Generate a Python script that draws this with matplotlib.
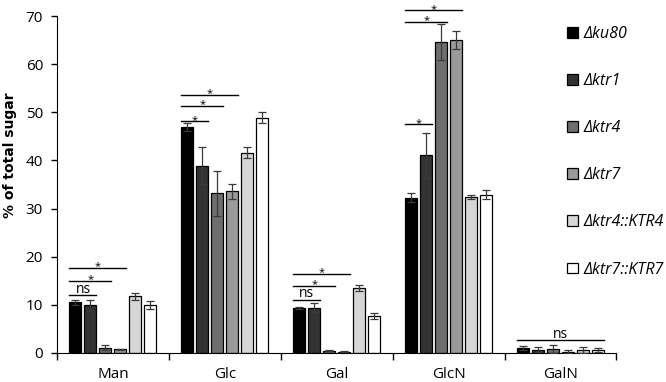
import numpy as np
import matplotlib
matplotlib.use('Agg')
import matplotlib.pyplot as plt

plt.rcParams['font.family'] = ['Open Sans', 'DejaVu Sans']

# data
sugars = ['Man', 'Glc', 'Gal', 'GlcN', 'GalN']
strains = ['Δku80', 'Δktr1', 'Δktr4', 'Δktr7', 'Δktr4::KTR4', 'Δktr7::KTR7']
colors = ['#000000', '#333333', '#6e6e6e', '#9a9a9a', '#d6d6d6', '#ffffff']

ku80 = [10.5, 46.9, 9.4, 32.3, 1.0]
ktr1 = [9.9, 38.9, 9.4, 41.1, 0.7]
ktr4 = [1.1, 33.2, 0.5, 64.6, 0.8]
ktr7 = [0.8, 33.6, 0.3, 65.0, 0.3]
ktr4_c = [11.8, 41.6, 13.5, 32.4, 0.6]
ktr7_c = [10.0, 48.9, 7.7, 32.9, 0.6]

ku80_err = [0.6, 0.8, 0.2, 1.0, 0.4]
ktr1_err = [1.1, 3.8, 0.9, 4.7, 0.5]
ktr4_err = [0.5, 4.7, 0.1, 3.8, 0.8]
ktr7_err = [0.1, 1.6, 0.1, 1.8, 0.4]
ktr4_c_err = [0.7, 1.1, 0.6, 0.4, 0.7]
ktr7_c_err = [0.8, 1.1, 0.6, 1.0, 0.5]

values = [ku80, ktr1, ktr4, ktr7, ktr4_c, ktr7_c]
errors = [ku80_err, ktr1_err, ktr4_err, ktr7_err, ktr4_c_err, ktr7_c_err]

# significance brackets: (sugar index, last bar index, height, label)
sig_marks = [
    (0, 1, 12.1, 'ns'), (0, 2, 15.0, '*'), (0, 3, 17.7, '*'),
    (1, 1, 48.1, '*'), (1, 2, 51.3, '*'), (1, 3, 53.6, '*'),
    (2, 1, 11.1, 'ns'), (2, 2, 14.0, '*'), (2, 3, 16.4, '*'),
    (3, 1, 47.5, '*'), (3, 2, 68.8, '*'), (3, 3, 71.2, '*'),
    (4, 5, 2.6, 'ns'),
]

fig = plt.figure(figsize=(6.66, 3.82), dpi=100)
ax = fig.add_axes([0.0856, 0.076, 0.84, 0.882])

step = 0.134
width = 0.107
x = np.arange(len(sugars))
for j, (vals, errs) in enumerate(zip(values, errors)):
    pos = x + (j - 2.5) * step
    ax.bar(pos, vals, width=width, color=colors[j], edgecolor='black',
           linewidth=0.9, label=strains[j], zorder=2)
    ax.errorbar(pos, vals, yerr=errs, fmt='none', ecolor='#3a3a3a',
                elinewidth=0.9, capsize=3, capthick=0.9, zorder=3)

for i, last, h, lab in sig_marks:
    x0 = i - 2.5 * step - width / 2
    x1 = i + (last - 2.5) * step + width / 2
    ax.plot([x0, x1], [h, h], color='black', lw=1, clip_on=False, zorder=4)
    if lab == 'ns':
        ax.text((x0 + x1) / 2, h + 0.45, lab, ha='center', va='baseline',
                fontsize=10, clip_on=False)
    else:
        ax.text((x0 + x1) / 2, h - 0.3, lab, ha='center', va='baseline',
                fontsize=8, clip_on=False)

ax.set_xlim(-0.5, len(sugars) - 0.5)
ax.set_ylim(0, 70)
ax.set_yticks(range(0, 71, 10))
ax.set_xticks(x)
ax.set_xticklabels(sugars, fontsize=11)
ax.set_xticks(np.arange(-0.5, len(sugars), 1), minor=True)
ax.tick_params(axis='x', which='major', length=0, pad=10)
ax.tick_params(axis='x', which='minor', length=5, width=1)
ax.tick_params(axis='y', length=4, width=1, labelsize=11, pad=6)
ax.set_ylabel('% of total sugar', fontsize=10, fontweight='bold',
              family='DejaVu Sans')
ax.yaxis.set_label_coords(-0.0714, 0.588)
ax.spines['top'].set_visible(False)
ax.spines['right'].set_visible(False)

leg = ax.legend(loc='upper left', bbox_to_anchor=(0.901, 0.99), frameon=False,
                handlelength=0.65, handleheight=0.65, handletextpad=0.35,
                labelspacing=1.95, borderaxespad=0,
                prop={'style': 'italic', 'size': 11.5})

fig.savefig('out.png', dpi=100)
